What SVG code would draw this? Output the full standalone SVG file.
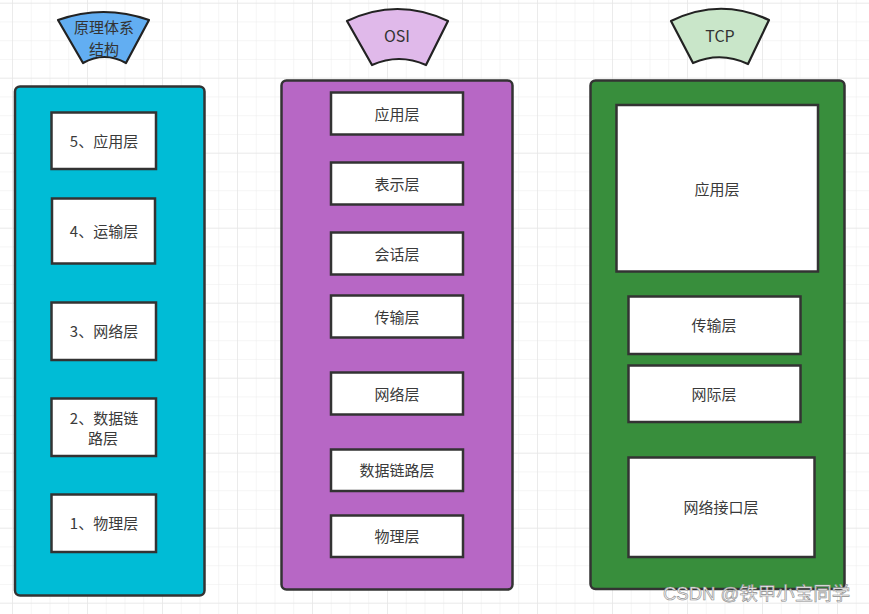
<svg xmlns="http://www.w3.org/2000/svg" width="869" height="614" viewBox="0 0 869 614">
<style>
.t{font-family:"Noto Sans CJK SC","Noto Sans",sans-serif;font-size:15px;fill:#3a3a3a;text-anchor:middle;dominant-baseline:central}
.ht{font-family:"Noto Sans CJK SC","Noto Sans",sans-serif;font-size:16px;fill:#333;text-anchor:middle;dominant-baseline:central}
.ht2{font-family:"Noto Sans CJK SC","Noto Sans",sans-serif;font-size:15px;fill:#333;text-anchor:middle;dominant-baseline:central}
.box{fill:#fff;stroke:#333;stroke-width:2.5}
.cont{stroke:#333;stroke-width:2.5}
.fan{stroke:#222;stroke-width:2.2;stroke-linejoin:round}
</style>
<defs>
<pattern id="g" patternUnits="userSpaceOnUse" x="12" y="2.7" width="18.75" height="18.75">
<path d="M0,0H18.75M0,0V18.75" fill="none" stroke="#ececec" stroke-width="1"/>
</pattern>
<pattern id="G" patternUnits="userSpaceOnUse" x="12" y="2.7" width="75" height="75">
<path d="M0,0H75M0,0V75" fill="none" stroke="#e2e2e2" stroke-width="1"/>
</pattern>
</defs>
<rect width="869" height="614" fill="#fff"/>
<rect width="869" height="614" fill="url(#g)"/>
<rect width="869" height="614" fill="url(#G)"/>

<g id="hdr-principle">
<path class="fan" fill="#62aef2" d="M58,20 Q103.5,4 149,20 L126,63 Q104.5,51 83,63 Z"/>
<text class="ht2" x="104" y="26">原理体系</text>
<text class="ht2" x="104" y="48">结构</text>
</g>
<g id="hdr-osi">
<path class="fan" fill="#e0b9ea" d="M347,21 Q397.5,-3 448,21 L426,65 Q399,53 372,65 Z"/>
<text class="ht" x="397" y="35">OSI</text>
</g>
<g id="hdr-tcp">
<path class="fan" fill="#c9e6c9" d="M671,21 Q720,-3 769,20 L748,64 Q720.5,51 693,63 Z"/>
<text class="ht" x="720" y="35">TCP</text>
</g>

<g id="col-principle">
<rect class="cont" x="15" y="86.5" width="189.5" height="509" rx="5" fill="#00bcd6"/>
</g>
<g id="p5"><rect class="box" x="51.5" y="112.5" width="104.5" height="56.5"/><text class="t" x="104" y="140">5、应用层</text></g>
<g id="p4"><rect class="box" x="52" y="198.5" width="103" height="65"/><text class="t" x="104" y="230">4、运输层</text></g>
<g id="p3"><rect class="box" x="51.5" y="302.5" width="104.5" height="57.5"/><text class="t" x="104" y="330">3、网络层</text></g>
<g id="p2"><rect class="box" x="51.5" y="398.5" width="104.5" height="57.5"/><text class="t" x="104" y="417">2、数据链</text><text class="t" x="103" y="437">路层</text></g>
<g id="p1"><rect class="box" x="51.5" y="494.5" width="104.5" height="57.5"/><text class="t" x="104" y="522">1、物理层</text></g>

<g id="col-osi">
<rect class="cont" x="281.5" y="80.5" width="231" height="509" rx="5" fill="#b767c5"/>
</g>
<g id="o7"><rect class="box" x="331" y="92.5" width="132" height="42"/><text class="t" x="397" y="113">应用层</text></g>
<g id="o6"><rect class="box" x="331" y="162.5" width="132" height="42"/><text class="t" x="397" y="183">表示层</text></g>
<g id="o5"><rect class="box" x="331" y="232.5" width="132" height="42"/><text class="t" x="397" y="253">会话层</text></g>
<g id="o4"><rect class="box" x="331" y="295.5" width="132" height="42"/><text class="t" x="397" y="316">传输层</text></g>
<g id="o3"><rect class="box" x="331" y="372.5" width="132" height="42"/><text class="t" x="397" y="393">网络层</text></g>
<g id="o2"><rect class="box" x="331" y="449.5" width="132" height="41.5"/><text class="t" x="397" y="469">数据链路层</text></g>
<g id="o1"><rect class="box" x="331" y="515.5" width="132" height="41.5"/><text class="t" x="397" y="535">物理层</text></g>

<g id="col-tcp">
<rect class="cont" x="590.5" y="80.5" width="254" height="508.5" rx="5" fill="#388e3c"/>
</g>
<g id="t4"><rect class="box" x="616.5" y="105" width="201.5" height="166.5"/><text class="t" x="717" y="188">应用层</text></g>
<g id="t3"><rect class="box" x="628.5" y="296.5" width="172" height="57.5"/><text class="t" x="714" y="324">传输层</text></g>
<g id="t2"><rect class="box" x="628.5" y="365.5" width="172" height="56.5"/><text class="t" x="714" y="393">网际层</text></g>
<g id="t1"><rect class="box" x="628.5" y="457.5" width="186" height="99.5"/><text class="t" x="721" y="506">网络接口层</text></g>

<g id="connectors"></g>

<text x="663" y="593" font-family="'Liberation Sans','Noto Sans CJK SC',sans-serif" font-size="18.5" fill="#f4f4f4" stroke="#8c8c8c" stroke-width="0.6" dominant-baseline="central">CSDN @铁甲小宝同学</text>
</svg>
